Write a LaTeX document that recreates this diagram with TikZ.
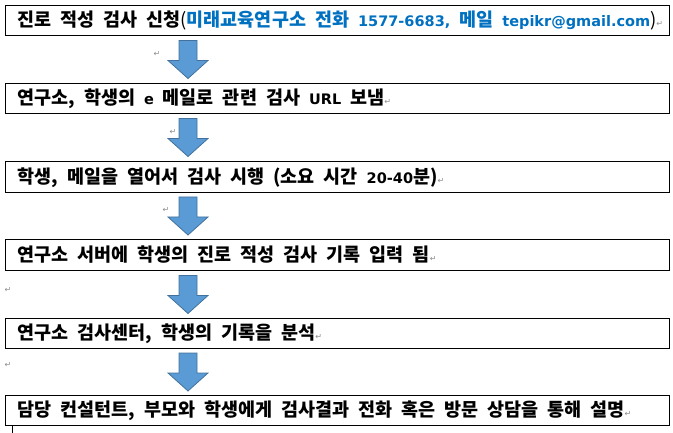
\documentclass[tikz,border=0pt]{standalone}
\usepackage{fontspec}
\usetikzlibrary{calc}
\newfontfamily\kr{Noto Sans CJK KR}
\newfontfamily\lat{DejaVu Sans}
\definecolor{kblue}{RGB}{0,112,192}
\definecolor{afill}{RGB}{91,155,213}
\definecolor{aline}{RGB}{65,113,156}
\definecolor{pmgray}{RGB}{140,140,140}
\newcommand\la[1]{{\lat\fontsize{14.5}{18}\selectfont #1}}
\newcommand\parmark{{\lat\mdseries\fontsize{8}{8}\selectfont\color{pmgray}↵}}
\newcommand\setwordspace{\spaceskip=9pt\relax}
\newcommand\blockarrow[2]{%
  \path[arrowshape] let \p1=(#1.south), \p2=(#2.north),
    \n1={(\y1+\y2)/2} in
    (188pt-9pt,\n1+19pt) -- (188pt+9pt,\n1+19pt) -- (188pt+9pt,\n1-1pt)
    -- (188pt+20pt,\n1-1pt) -- (188pt,\n1-19pt) -- (188pt-20pt,\n1-1pt)
    -- (188pt-9pt,\n1-1pt) -- cycle;}
\tikzset{
  box/.style={draw=black, line width=1pt, anchor=north west,
    minimum height=30pt, text width=640pt, inner xsep=12pt, inner ysep=0pt,
    align=left, font=\kr\bfseries\fontsize{18.5}{20}\selectfont,
    execute at begin node=\setwordspace,
    text height=15pt, text depth=2.4pt},
  arrowshape/.style={fill=afill, draw=aline, line width=0.8pt, line join=miter},
  pm/.style={inner sep=0pt, font=\lat\fontsize{8}{8}\selectfont, text=pmgray}
}
\begin{document}
\begin{tikzpicture}[x=1pt,y=-1pt]
\useasboundingbox (0,0) rectangle (673,433);
\node[box] (b1) at (5,5) {\mbox{진로 적성 검사 신청{\mdseries(}\textcolor{kblue}{미래교육연구소 전화 \la{1577-6683,} 메일 \la{tepikr@gmail.com}}{\mdseries)}\parmark}};
\node[box] (b2) at (5,83) {연구소, 학생의 \la{e} 메일로 관련 검사 \la{URL} 보냄\parmark};
\node[box, minimum height=31pt] (b3) at (5,161) {학생, 메일을 열어서 검사 시행 (소요 시간 \la{20-40}분)\parmark};
\node[box, minimum height=31pt] (b4) at (5,239) {연구소 서버에 학생의 진로 적성 검사 기록 입력 됨\parmark};
\node[box] (b5) at (5,318) {연구소 검사센터, 학생의 기록을 분석\parmark};
\node[box] (b6) at (5,395) {담당 컨설턴트, 부모와 학생에게 검사결과 전화 혹은 방문 상담을 통해 설명\parmark};
\blockarrow{b1}{b2}
\blockarrow{b2}{b3}
\blockarrow{b3}{b4}
\blockarrow{b4}{b5}
\blockarrow{b5}{b6}
\node[pm] (m1) at (157,54) {↵};
\node[pm] (m2) at (173,132) {↵};
\node[pm] (m3) at (166,210) {↵};
\node[pm] (m4) at (8,290) {↵};
\node[pm] (m5) at (8,365) {↵};
\coordinate (t1) at (12,425);
\coordinate (t2) at (12,433);
\draw[line width=1pt] (t1) -- (t2);
\end{tikzpicture}
\end{document}
